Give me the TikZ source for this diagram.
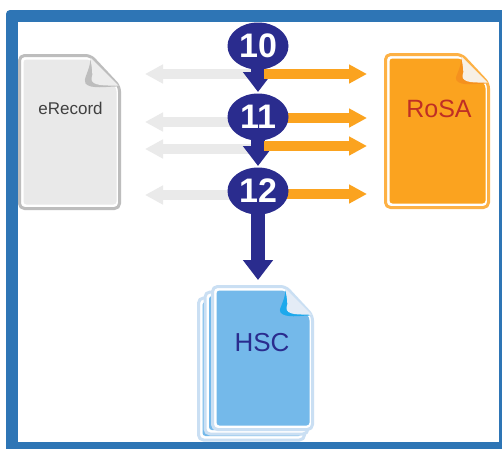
\documentclass[tikz,border=0pt]{standalone}
\usepackage{fontspec}
\setmainfont{Liberation Sans}
\usetikzlibrary{arrows.meta,calc,shapes.geometric}
\definecolor{framec}{HTML}{2E75B5}
\definecolor{navyc}{HTML}{2A2C8E}
\definecolor{orangec}{HTML}{FBA31F}
\definecolor{orangeb}{HTML}{FDB145}
\definecolor{orangesh}{HTML}{F5911E}
\definecolor{orangefold}{HTML}{F7F0E6}
\definecolor{greyc}{HTML}{E9E9E9}
\definecolor{greyb}{HTML}{BDBDBD}
\definecolor{greya}{HTML}{EAEAEA}
\definecolor{bluec}{HTML}{74B9EA}
\definecolor{blueb}{HTML}{CADFF3}
\definecolor{bluesh}{HTML}{1DA9EC}
\definecolor{bluefold}{HTML}{E4ECF6}
\definecolor{rosac}{HTML}{BF2E25}
\newcommand{\docsheet}[9]{%
 % x y w h border fill foldlight shadow foldsize
 \begin{scope}[shift={(#1,#2)}]
  \draw[#5,line width=3pt,fill=white,rounded corners=5pt,line join=round]
    (0,0) -- (#3-#9,0) -- (#3,#9+2) -- (#3,#4) -- (0,#4) -- cycle;
  \fill[#6,rounded corners=3pt]
    (4,4) -- (#3-#9-1,4) -- (#3-3,#9+4) -- (#3-3,#4-4) -- (4,#4-4) -- cycle;
  \fill[#8] (#3-#9,4) .. controls (#3-#9-1,16) and (#3-#9-8,24) .. (#3-#9-5,#9-1)
     .. controls (#3-#9,#9+5) and (#3-12,#9+2) .. (#3-3,#9+2) -- cycle;
  \fill[#7] (#3-#9,2) -- (#3-1,#9+1) .. controls (#3-12,#9+1) and (#3-#9,#9+2) .. (#3-#9+1,#9-6)
     .. controls (#3-#9+3,#9-10) and (#3-#9+1,12) .. (#3-#9,2) -- cycle;
 \end{scope}}
\tikzset{
 x=1pt,y=-1pt,
 pinball/.style={ellipse,fill=navyc,minimum width=61pt,minimum height=47pt,inner sep=0pt,text=white,font=\fontsize{34}{34}\bfseries\selectfont},
 navyarrow/.style={draw=navyc,line width=14pt,-{Triangle[width=29pt,length=20pt]}},
 orangearrow/.style={draw=orangec,line width=10pt,-{Triangle[width=18pt,length=18pt]}},
 greyarrow/.style={draw=greya,line width=10pt,-{Triangle[width=18pt,length=18pt]}},
 doclabel/.style={inner sep=0pt},
}
\begin{document}
\begin{tikzpicture}
\useasboundingbox (0,0) rectangle (502,448);
\fill[white] (0,0) rectangle (502,448);
\fill[framec,rounded corners=4pt] (6,10) -- (510,10) -- (510,460) -- (6,460) -- cycle;
\fill[white] (18,22) rectangle (499,442);
% documents
\docsheet{19.5}{55.5}{100}{153}{greyb}{greyc}{white!93!black}{greyb}{29}
\docsheet{385.5}{54.5}{103}{153}{orangeb}{orangec}{orangefold}{orangesh}{27}
\docsheet{198.5}{298}{106}{142}{blueb}{bluec}{white}{bluec}{25}
\docsheet{205}{292}{103}{142}{blueb}{bluec}{white}{bluec}{25}
\docsheet{212.5}{286.5}{100}{143}{blueb}{bluec}{bluefold}{bluesh}{27}
\node[doclabel,font=\fontsize{17}{18}\selectfont,text=black!75] (erecord) at (70.5,108) {eRecord};
\node[doclabel,font=\fontsize{25}{26}\selectfont,text=rosac] (rosa) at (439,109) {RoSA};
\node[doclabel,font=\fontsize{26}{27}\selectfont,text=navyc] (hsc) at (262,343) {HSC};
% free ends
\coordinate (g1s) at (252,74); \coordinate (g1e) at (145,74);
\coordinate (g2s) at (240,122); \coordinate (g2e) at (145,122);
\coordinate (g3s) at (252,149); \coordinate (g3e) at (145,149);
\coordinate (g4s) at (240,195); \coordinate (g4e) at (145,195);
\coordinate (o1s) at (264,74); \coordinate (o1e) at (367,74);
\coordinate (o2s) at (270,118); \coordinate (o2e) at (367,118);
\coordinate (o3s) at (264,146); \coordinate (o3e) at (367,146);
\coordinate (o4s) at (270,194); \coordinate (o4e) at (367,194);
\coordinate (t1) at (258,92);
\coordinate (t2) at (258,166);
\coordinate (t3) at (258,280);
\draw[greyarrow] (g1s) -- (g1e);
\draw[greyarrow] (g2s) -- (g2e);
\draw[greyarrow] (g3s) -- (g3e);
\draw[greyarrow] (g4s) -- (g4e);
\draw[orangearrow] (o2s) -- (o2e);
\draw[orangearrow] (o4s) -- (o4e);
% pins
\node[pinball] (p10) at (258,46) {};
\node[pinball] (p11) at (258,117) {};
\node[pinball] (p12) at (258,191) {};
\draw[navyarrow] (p10.center) -- (t1);
\draw[navyarrow] (p11.center) -- (t2);
\draw[navyarrow] (p12.center) -- (t3);
\draw[orangearrow] (o1s) -- (o1e);
\draw[orangearrow] (o3s) -- (o3e);
\node[pinball,fill=none] at (p10) {10};
\node[pinball,fill=none] at (p11) {11};
\node[pinball,fill=none] at (p12) {12};
\end{tikzpicture}
\end{document}
